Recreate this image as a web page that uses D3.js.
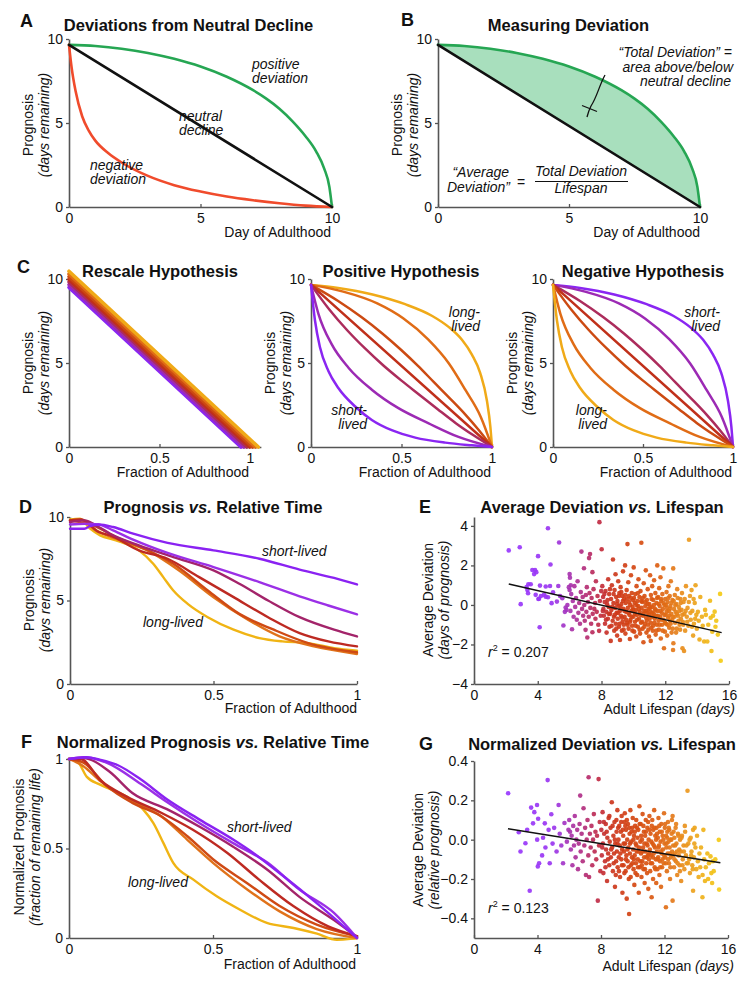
<!DOCTYPE html>
<html><head><meta charset="utf-8">
<script src="https://cdn.jsdelivr.net/npm/d3@7"></script>
<style>body{margin:0;background:#fff}</style>
</head><body>
<svg id="fig" width="751" height="987" style="background:#fff"></svg>
<script>
// ---------------- DATA ----------------
const ticksDays = [0, 5, 10];
const ticksFrac = [0, 0.5, 1];
const ticksLife = [0, 4, 8, 12, 16];
const ticksDevE = [-4, -2, 0, 2, 4];
const ticksDevG = [-0.4, -0.2, 0, 0.2, 0.4];

// Panel A / B curves  [day, prognosis]
const neutralLine = [[0, 9.65], [10, 0]];
const positiveCurve = [[0,9.65],[1,9.58],[2,9.42],[3,9.17],[4,8.82],[5,8.36],[6,7.75],[7,6.95],[7.5,6.45],[8,5.85],[8.5,5.1],[9,4.2],[9.4,3.3],[9.7,2.3],[9.9,1.2],[10,0]];
const negativeCurve = [[0,9.65],[0.1,8.3],[0.25,6.9],[0.5,5.4],[0.75,4.55],[1,3.95],[1.5,3.2],[2,2.65],[3,1.85],[4,1.3],[5,0.92],[6,0.62],[7,0.4],[8,0.22],[9,0.08],[10,0]];

// Panel C – rescale hypothesis: start prognosis and end fraction of each line
const rescaleStarts = [9.5, 9.66, 9.82, 9.98, 10.14, 10.3, 10.46];
const rescaleEnds   = [0.95, 0.966, 0.982, 0.998, 1.014, 1.03, 1.046];

// Panel C – hypothesis curve family (from most convex to most concave)
const hypCurves = [
  [[0,9.65],[0.15,9.47],[0.34,9.08],[0.52,8.5],[0.67,7.8],[0.76,7.15],[0.834,6.38],[0.889,5.5],[0.935,4.4],[0.972,2.75],[0.991,1.2],[1,0]],
  [[0,9.65],[0.178,9.25],[0.366,8.55],[0.511,7.65],[0.647,6.41],[0.761,4.99],[0.854,3.38],[0.938,1.79],[1,0]],
  [[0,9.65],[0.15,8.69],[0.28,7.72],[0.394,6.76],[0.497,5.79],[0.591,4.83],[0.679,3.86],[0.767,2.9],[0.853,1.93],[0.93,0.97],[1,0]],
  [[0,9.65],[1,0]],
  [[0,9.65],[0.1,8.2],[0.2,6.95],[0.3,5.85],[0.4,4.85],[0.5,3.95],[0.6,3.1],[0.7,2.25],[0.8,1.42],[0.9,0.68],[1,0]],
  [[0,9.65],[0.041,7.93],[0.114,6.12],[0.207,4.72],[0.336,3.41],[0.483,2.31],[0.65,1.41],[0.815,0.6],[1,0]],
  [[0,9.65],[0.022,7.53],[0.05,5.92],[0.096,4.52],[0.151,3.51],[0.244,2.41],[0.336,1.61],[0.446,1.0],[0.576,0.56],[0.742,0.26],[0.889,0.1],[1,0]]
];
// colour order short-lived (purple) -> long-lived (yellow)
const lifeColors = ['#8a26f2','#9c2ab4','#ac2c5c','#c0301a','#cc4a12','#e06c16','#f0aa18'];

// Panel D – prognosis vs relative time (short-lived -> long-lived)
const prognosisCurves = [
  [[0,9.3],[0.05,9.3],[0.07,9.45],[0.1,9.55],[0.15,9.4],[0.22,9.0],[0.34,8.45],[0.5,8.0],[0.66,7.5],[0.8,6.85],[0.92,6.35],[1,5.96]],
  [[0,9.55],[0.05,9.6],[0.1,9.55],[0.15,9.2],[0.22,8.65],[0.34,7.85],[0.5,7.0],[0.66,6.1],[0.8,5.25],[0.9,4.7],[1,4.17]],
  [[0,9.7],[0.05,9.8],[0.1,9.4],[0.14,9.0],[0.24,8.3],[0.36,7.6],[0.5,6.8],[0.59,6.0],[0.69,5.0],[0.8,4.0],[0.92,3.25],[1,2.85]],
  [[0,9.8],[0.04,9.85],[0.1,9.1],[0.14,8.9],[0.24,8.0],[0.34,7.5],[0.45,6.4],[0.57,5.2],[0.69,4.0],[0.8,3.05],[0.9,2.55],[1,2.25]],
  [[0,9.8],[0.08,9.5],[0.16,8.8],[0.26,8.1],[0.36,7.2],[0.48,5.6],[0.59,4.2],[0.71,3.25],[0.83,2.45],[1,1.9]],
  [[0,9.8],[0.035,9.85],[0.09,9.2],[0.16,8.7],[0.27,8.0],[0.38,6.8],[0.5,5.2],[0.62,3.85],[0.73,2.85],[0.85,2.25],[1,1.8]],
  [[0,9.85],[0.035,9.9],[0.07,9.3],[0.105,8.9],[0.16,8.6],[0.24,8.0],[0.29,7.2],[0.325,6.4],[0.36,5.6],[0.41,4.8],[0.48,4.0],[0.57,3.25],[0.66,2.75],[0.74,2.55],[0.83,2.45],[0.92,2.15],[1,2.0]]
];
const curveColorsD = ['#8a22f2','#9b30e6','#a3246a','#bd2a22','#cf4a14','#e0721a','#f0b414'];

// Panel F – normalized prognosis
const normCurves = [
  [[0,1.0],[0.06,1.01],[0.11,0.995],[0.17,0.965],[0.25,0.885],[0.34,0.775],[0.455,0.66],[0.57,0.55],[0.64,0.475],[0.745,0.345],[0.86,0.195],[1,0]],
  [[0,1.0],[0.05,1.01],[0.13,0.98],[0.25,0.86],[0.34,0.76],[0.455,0.64],[0.57,0.53],[0.69,0.42],[0.8,0.27],[0.92,0.14],[1,0]],
  [[0,1.0],[0.05,1.005],[0.14,0.93],[0.22,0.81],[0.34,0.72],[0.455,0.62],[0.57,0.51],[0.69,0.38],[0.8,0.23],[0.92,0.1],[1,0.005]],
  [[0,1.0],[0.04,1.0],[0.11,0.88],[0.2,0.79],[0.32,0.7],[0.43,0.605],[0.55,0.475],[0.66,0.326],[0.78,0.177],[0.9,0.065],[1,0.01]],
  [[0,1.0],[0.05,0.98],[0.13,0.85],[0.22,0.755],[0.32,0.68],[0.41,0.57],[0.5,0.44],[0.62,0.305],[0.73,0.18],[0.86,0.075],[1,0.01]],
  [[0,1.0],[0.05,0.96],[0.11,0.875],[0.2,0.78],[0.32,0.68],[0.41,0.55],[0.5,0.42],[0.62,0.27],[0.73,0.15],[0.86,0.05],[1,0]],
  [[0,1.0],[0.027,0.99],[0.062,0.9],[0.108,0.857],[0.2,0.79],[0.258,0.717],[0.293,0.642],[0.328,0.53],[0.362,0.42],[0.432,0.326],[0.513,0.233],[0.594,0.158],[0.687,0.084],[0.78,0.056],[0.861,0.024],[0.93,-0.01],[0.977,-0.005],[1,0]]
];

// Panel E – [adult lifespan (days), average deviation (days)]
const pointsE = [
 [2.18,2.76],[2.87,2.92],[2.93,0.04],[3.3,0.9],[3.35,0.76],[3.39,0.59],[3.41,1.05],[3.56,1.05],[3.66,1.77],[3.77,1.56],[3.83,1.77],[3.87,0.51],[3.91,1.66],[4.02,2.47],[4.04,0.3],[4.08,0.31],[4.12,-1.13],[4.14,0.98],[4.2,0.45],[4.39,0.51],[4.5,0.93],[4.5,0.42],[4.64,3.88],[4.64,0.39],[4.77,0.96],[4.8,2.05],[4.87,0.09],[4.96,0.64],[5.2,0.17],[5.29,0.96],[5.34,3.16],[5.4,0.45],[5.54,0.34],[5.61,-1.04],[5.75,-0.13],[5.8,-0.25],[5.86,0.0],[6.0,1.56],[6.0,0.76],[6.02,1.38],[6.07,1.0],[5.95,0.9],[5.7,-0.35],
 [6.05,-0.3],[6.1,0.55],[6.15,-1.23],[6.2,0.2],[6.25,-0.6],[6.3,0.95],[6.35,-0.1],[6.4,0.35],[6.45,-0.75],[6.5,1.2],[6.55,-0.4],[6.6,0.1],[6.65,-0.95],[6.7,0.65],[6.74,2.7],[6.78,-0.2],[6.82,0.4],[6.85,-0.55],[6.9,1.86],[6.92,0.0],[6.95,-0.8],[7.0,-1.26],[7.02,0.5],[7.05,-0.35],[7.08,0.9],[7.11,-1.65],[7.15,0.15],[7.2,-0.6],[7.22,2.37],[7.25,0.6],[7.28,2.58],[7.3,-0.15],[7.35,-0.95],[7.38,0.35],[7.43,1.66],[7.43,-1.38],[7.45,-0.45],[7.5,0.8],[7.55,-0.2],[7.6,0.1],[7.62,-0.7],[7.65,1.2],[7.7,-0.35],[7.75,0.45],[7.8,-1.0],[7.85,-1.31],[7.87,4.19],[7.9,0.2],[7.95,-0.55],[7.98,0.7],[8.01,2.82],
 [8.05,0.95],[8.1,0.4],[8.12,-0.2],[8.15,-0.55],[8.2,0.15],[8.22,-0.95],[8.25,0.7],[8.3,-0.35],[8.32,-1.4],[8.35,0.05],[8.4,-0.7],[8.42,1.3],[8.45,-0.1],[8.48,0.55],[8.5,-1.1],
 [8.55,-0.45],[8.58,-1.82],[8.6,0.3],[8.62,-0.25],[8.65,1.0],[8.7,-0.8],[8.72,2.3],[8.75,0.1],[8.78,-0.6],[8.8,-1.3],[8.82,0.75],[8.85,-0.15],[8.88,1.55],[8.9,-0.95],[8.92,0.4],[8.95,-0.4],[8.98,-1.55],
 [9.0,0.2],[9.02,-0.7],[9.05,1.2],[9.08,-0.05],[9.1,-1.1],[9.12,0.6],[9.15,-0.3],[9.16,-1.77],[9.2,0.9],[9.22,-0.55],[9.25,0.05],[9.28,-1.3],[9.3,0.45],[9.32,-0.85],[9.35,1.7],[9.38,-0.2],[9.4,-1.0],[9.42,0.3],[9.45,-0.6],[9.48,2.0],[9.5,-1.45],
 [9.52,0.1],[9.55,-0.35],[9.58,0.75],[9.6,-0.9],[9.63,3.08],[9.65,-0.15],[9.68,1.15],[9.7,-1.2],[9.72,0.45],[9.75,-0.5],[9.78,-1.72],[9.8,0.0],[9.82,-0.75],[9.85,1.5],[9.88,-0.3],[9.9,0.6],[9.92,-1.05],[9.95,-0.1],[9.98,0.25],
 [10.0,-0.6],[10.02,1.9],[10.05,-1.35],[10.08,0.1],[10.1,-0.85],[10.12,0.55],[10.15,-0.25],[10.18,-1.6],[10.2,0.95],[10.22,-0.5],[10.25,0.2],[10.28,-1.1],[10.3,-0.05],[10.32,1.3],[10.35,-0.7],[10.38,0.4],[10.4,-0.35],[10.42,-1.45],[10.45,0.7],[10.48,-0.9],
 [10.5,3.15],[10.52,-0.15],[10.55,0.15],[10.58,-1.2],[10.6,-0.55],[10.63,-1.89],[10.65,1.1],[10.68,-0.3],[10.7,0.45],[10.72,-0.95],[10.75,-0.05],[10.78,1.75],[10.8,-0.65],[10.82,-1.4],[10.85,0.25],[10.88,-0.4],[10.9,0.8],[10.92,-1.0],[10.95,-0.2],[10.98,-1.6],
 [11.0,0.05],[11.02,-0.7],[11.05,1.5],[11.08,-0.35],[11.09,-1.82],[11.1,0.5],[11.12,-1.15],[11.15,-0.1],[11.18,0.95],[11.2,-0.6],[11.22,-1.3],[11.25,0.25],[11.28,-0.45],[11.3,1.25],[11.32,-0.9],[11.35,-0.2],[11.38,0.6],[11.4,-1.5],[11.42,-0.55],[11.45,0.1],[11.48,-1.0],
 [11.5,2.0],[11.52,-0.3],[11.55,0.4],[11.58,-0.8],[11.6,-1.25],[11.62,0.85],[11.65,-0.05],[11.68,-0.6],[11.7,1.4],[11.72,-1.7],[11.75,0.2],[11.78,-0.4],[11.8,-1.0],[11.82,0.55],[11.85,-0.2],[11.88,1.85],[11.9,-0.75],[11.92,-2.19],[11.95,0.0],[11.98,-1.35],
 [12.0,0.3],[12.02,-0.5],[12.05,-0.95],[12.08,0.65],[12.1,-0.15],[12.12,-1.55],[12.15,0.15],[12.18,-0.65],[12.2,0.95],[12.22,-0.3],[12.25,-1.15],[12.28,0.45],[12.3,-0.8],[12.32,-0.05],[12.35,1.2],[12.38,-0.45],[12.4,-1.4],[12.45,0.25],[12.48,-0.6],[12.49,-2.28],
 [12.5,1.85],[12.51,-1.94],[12.55,-0.2],[12.6,0.5],[12.62,-0.9],[12.65,-0.35],[12.7,0.05],[12.72,-1.2],[12.75,0.8],[12.8,-0.55],[12.85,-0.1],[12.9,-1.0],[12.95,0.3],[12.98,-0.7],
 [13.02,-0.25],[13.05,0.6],[13.08,-2.19],[13.1,-0.85],[13.15,0.15],[13.18,-2.33],[13.2,-0.45],[13.25,-1.3],[13.3,0.95],[13.35,-0.6],[13.4,-0.15],[13.45,-1.05],[13.49,3.3],
 [13.55,0.45],[13.6,-0.75],[13.65,0.75],[13.7,-0.3],[13.75,-1.55],[13.8,-0.95],[13.85,0.1],[13.9,1.0],[13.95,-0.5],[13.98,-1.2],
 [14.05,-0.35],[14.1,-0.8],[14.15,-1.75],[14.2,0.4],[14.3,-0.6],[14.35,-1.05],[14.44,-1.85],[14.5,-0.25],[14.55,-0.5],[14.64,-1.85],[14.7,-1.0],[14.81,0.21],[14.85,-0.65],[14.9,-2.33],[14.95,-1.35],[15.0,-0.55],[15.1,-0.34],[15.15,-1.1],[15.2,-0.8],[15.3,-1.5],[15.44,0.56],[15.48,-2.82],
 [8.08,-0.3],[8.18,0.55],[8.28,-0.75],[8.38,0.25],[8.46,-0.45],[8.53,0.8],[8.63,-1.05],[8.68,-0.1],[8.76,0.55],[8.84,-0.5],[8.93,-1.2],[8.97,0.05],
 [9.04,-0.4],[9.09,0.45],[9.14,-0.95],[9.19,-0.1],[9.24,0.65],[9.29,-0.65],[9.34,0.2],[9.39,-1.25],[9.44,-0.3],[9.49,0.5],
 [9.54,-0.75],[9.59,0.3],[9.64,-1.0],[9.69,-0.4],[9.74,0.15],[9.79,-0.85],[9.84,0.35],[9.89,-0.6],[9.94,-1.3],[9.99,-0.25],
 [10.04,0.35],[10.09,-0.45],[10.14,-1.05],[10.19,0.0],[10.24,-0.75],[10.29,0.6],[10.34,-0.2],[10.39,-1.25],[10.44,-0.5],[10.49,0.2],
 [10.54,-0.85],[10.59,0.35],[10.64,-0.45],[10.69,-1.1],[10.74,0.15],[10.79,-0.3],[10.84,-0.8],[10.89,0.05],[10.94,-1.25],[10.99,-0.5],
 [11.04,-0.15],[11.09,-0.9],[11.14,0.3],[11.19,-0.4],[11.24,-1.05],[11.29,0.0],[11.34,-0.7],[11.39,-0.25],[11.44,-1.3],[11.49,0.35],
 [11.54,-0.55],[11.59,0.05],[11.64,-1.0],[11.69,-0.3],[11.74,0.3],[11.79,-0.75],[11.84,-1.3],[11.89,0.1],[11.94,-0.5],[11.99,-0.9],
 [12.04,0.0],[12.09,-0.35],[12.14,-1.0],[12.19,0.35],[12.24,-0.55],[12.29,-0.2],[12.34,-0.95],[12.39,0.1],[12.44,-0.75],[12.47,-1.2],
 [12.53,0.2],[12.58,-0.6],[12.63,0.0],[12.68,-1.4],[12.73,-0.45],[12.78,0.35],[12.83,-0.8],[12.88,-0.3],[12.93,-1.25],[12.97,0.1],
 [13.07,-0.5],[13.13,-1.0],[13.22,0.3],[13.28,-0.3],[13.38,-0.85],[13.48,0.15],[13.58,-0.4],[13.68,-1.1],[13.78,0.3],[13.88,-0.7]
];
const fitE = [[2.18, 1.06], [15.54, -1.40]];
const r2E = '0.207';

// Panel G – [adult lifespan (days), average deviation (relative prognosis)]
const pointsG = [
 [2.15,0.236],[2.82,0.038],[2.93,-0.06],[3.24,-0.018],[3.35,0.05],[3.51,-0.26],[3.6,0.163],[3.72,0.083],[3.8,0.14],[3.97,0.176],[3.98,0.0],[4.02,-0.136],[4.04,0.106],[4.1,-0.12],[4.29,-0.08],[4.35,0.01],[4.46,0.083],[4.5,-0.04],[4.64,0.303],[4.7,0.05],[4.77,-0.12],[4.87,0.129],[4.95,-0.02],[5.05,0.06],[5.2,-0.06],[5.33,0.176],[5.4,0.03],[5.5,-0.03],[5.61,-0.12],[5.7,0.085],[5.85,-0.01],[5.95,0.05],[6.0,0.1],
 [6.05,0.04],[6.1,-0.05],[6.15,0.02],[6.2,-0.13],[6.25,0.07],[6.3,-0.03],[6.35,0.12],[6.4,-0.09],[6.45,0.0],[6.5,0.05],[6.55,-0.15],[6.6,-0.02],[6.65,0.08],[6.69,0.224],[6.72,-0.06],[6.78,0.03],[6.85,-0.11],[6.9,0.16],[6.95,-0.03],[7.0,0.06],[7.05,-0.18],[7.1,0.0],[7.15,0.1],[7.2,-0.08],[7.22,0.317],[7.25,-0.19],[7.3,0.03],[7.35,-0.04],[7.4,0.07],[7.45,-0.13],[7.5,0.0],[7.55,0.13],[7.6,-0.06],[7.65,0.04],[7.7,-0.1],[7.75,0.02],[7.8,-0.31],[7.85,0.308],[7.88,-0.03],[7.92,0.09],[7.96,-0.16],
 [8.02,0.05],[8.05,-0.08],[8.1,0.14],[8.12,-0.02],[8.15,-0.17],[8.2,0.03],[8.25,-0.11],[8.3,0.08],[8.32,-0.05],[8.38,-0.21],[8.4,0.01],[8.45,-0.07],[8.48,0.11],
 [8.52,-0.13],[8.55,-0.01],[8.6,0.06],[8.62,-0.09],[8.68,0.19],[8.7,-0.04],[8.75,-0.16],[8.78,0.02],[8.82,-0.07],[8.85,0.09],[8.88,-0.24],[8.9,-0.02],[8.95,-0.11],[8.98,0.04],
 [9.0,-0.06],[9.03,0.15],[9.05,-0.14],[9.1,0.0],[9.12,-0.09],[9.15,0.07],[9.18,-0.03],[9.2,-0.19],[9.25,0.04],[9.28,-0.1],[9.3,0.12],[9.33,-0.05],[9.35,-0.27],[9.4,0.02],[9.42,-0.13],[9.45,-0.06],[9.48,0.09],
 [9.5,0.134],[9.52,-0.02],[9.55,-0.16],[9.58,0.05],[9.6,-0.08],[9.62,-0.3],[9.65,0.0],[9.68,-0.11],[9.7,0.08],[9.72,-0.04],[9.75,-0.2],[9.77,-0.378],[9.8,0.03],[9.82,-0.07],[9.85,0.15],[9.88,-0.13],[9.9,-0.01],[9.95,-0.09],[9.98,0.06],
 [10.0,0.11],[10.02,-0.05],[10.05,-0.15],[10.08,0.02],[10.1,-0.23],[10.12,-0.08],[10.15,0.07],[10.18,-0.02],[10.2,-0.12],[10.22,0.1],[10.25,-0.06],[10.28,-0.18],[10.3,0.01],[10.32,-0.1],[10.35,0.05],[10.38,-0.27],[10.4,-0.04],[10.42,0.17],[10.45,-0.14],[10.48,-0.01],
 [10.5,0.08],[10.52,-0.07],[10.55,-0.19],[10.58,0.0],[10.6,-0.11],[10.62,0.13],[10.65,-0.04],[10.68,-0.15],[10.7,0.04],[10.72,-0.09],[10.75,-0.22],[10.78,0.02],[10.8,-0.06],[10.82,0.1],[10.85,-0.12],[10.88,-0.02],[10.9,-0.17],[10.92,0.06],[10.95,-0.08],[10.98,-0.25],
 [11.0,0.0],[11.02,-0.1],[11.05,0.12],[11.08,-0.05],[11.1,-0.16],[11.12,0.03],[11.15,-0.08],[11.19,-0.293],[11.2,0.07],[11.22,-0.12],[11.25,-0.02],[11.28,-0.2],[11.3,0.05],[11.32,-0.07],[11.35,0.15],[11.38,-0.14],[11.4,-0.04],[11.42,0.02],[11.45,-0.1],[11.48,-0.22],
 [11.5,0.06],[11.52,-0.06],[11.55,-0.15],[11.58,0.01],[11.6,-0.09],[11.62,0.11],[11.65,-0.03],[11.68,-0.18],[11.7,0.04],[11.72,-0.11],[11.75,-0.01],[11.78,-0.24],[11.8,0.08],[11.82,-0.07],[11.85,-0.14],[11.88,0.02],[11.9,-0.05],[11.95,-0.12],[11.97,0.134],
 [12.0,-0.02],[12.02,0.06],[12.05,-0.09],[12.09,-0.344],[12.1,0.02],[12.12,-0.04],[12.15,-0.16],[12.18,0.04],[12.2,-0.07],[12.22,0.09],[12.25,-0.01],[12.28,-0.12],[12.3,0.05],[12.32,-0.04],[12.35,-0.2],[12.38,0.0],[12.4,-0.09],[12.45,0.03],[12.48,-0.06],
 [12.51,0.12],[12.51,-0.31],[12.55,-0.03],[12.6,-0.14],[12.62,0.01],[12.65,-0.07],[12.7,0.06],[12.72,-0.11],[12.75,-0.02],[12.8,-0.18],[12.85,0.03],[12.9,-0.08],[12.95,-0.13],[12.98,0.0],
 [13.02,-0.06],[13.05,-0.21],[13.1,0.02],[13.15,-0.1],[13.2,-0.03],[13.25,-0.15],[13.3,0.04],[13.35,-0.08],[13.4,-0.12],[13.45,0.249],
 [13.5,-0.02],[13.55,-0.1],[13.6,-0.17],[13.65,0.01],[13.7,-0.06],[13.75,-0.13],[13.8,0.05],[13.8,-0.26],[13.85,-0.09],[13.9,0.06],[13.95,-0.04],
 [14.0,-0.15],[14.05,0.02],[14.1,-0.11],[14.15,-0.19],[14.2,-0.07],[14.25,-0.14],[14.3,-0.04],[14.39,-0.293],[14.4,-0.18],[14.45,0.05],[14.5,-0.1],[14.55,-0.21],[14.6,-0.14],[14.7,-0.07],[14.75,-0.2],[14.8,-0.12],[14.9,-0.085],[14.95,-0.17],[15.0,-0.22],[15.05,-0.11],[15.1,-0.16],[15.2,-0.1],[15.42,-0.001],[15.44,-0.254],
 [8.08,-0.04],[8.18,0.09],[8.28,-0.14],[8.36,0.04],[8.44,-0.1],[8.53,0.12],[8.64,-0.05],[8.73,0.07],[8.8,-0.12],[8.87,0.0],[8.93,-0.18],[8.97,0.1],
 [9.04,-0.02],[9.08,0.06],[9.13,-0.16],[9.22,-0.07],[9.27,0.09],[9.32,-0.13],[9.37,0.05],[9.43,-0.02],[9.47,-0.17],
 [9.53,0.07],[9.57,-0.1],[9.63,0.1],[9.67,-0.05],[9.73,-0.14],[9.78,0.06],[9.83,-0.02],[9.87,-0.19],[9.92,0.04],[9.97,-0.12],
 [10.04,0.0],[10.07,-0.1],[10.13,0.04],[10.17,-0.17],[10.23,-0.03],[10.27,0.06],[10.33,-0.14],[10.37,-0.06],[10.43,0.08],[10.47,-0.11],
 [10.53,0.02],[10.57,-0.13],[10.63,-0.06],[10.67,0.07],[10.73,-0.02],[10.77,-0.15],[10.83,0.04],[10.87,-0.09],[10.93,-0.03],[10.97,0.09],
 [11.03,-0.07],[11.07,0.05],[11.13,-0.12],[11.17,-0.01],[11.23,0.1],[11.27,-0.09],[11.33,-0.03],[11.37,0.06],[11.43,-0.15],[11.47,0.0],
 [11.53,0.03],[11.57,-0.1],[11.63,-0.04],[11.67,0.07],[11.73,-0.14],[11.77,-0.06],[11.83,0.04],[11.87,-0.1],[11.93,0.0],[11.98,-0.08],
 [12.04,0.08],[12.08,-0.12],[12.13,-0.02],[12.17,0.01],[12.23,-0.1],[12.27,0.06],[12.33,-0.07],[12.37,-0.14],[12.43,0.0],[12.47,0.1],
 [12.53,-0.08],[12.57,0.04],[12.63,-0.1],[12.67,-0.03],[12.73,0.08],[12.78,-0.06],[12.83,-0.12],[12.87,0.02],[12.93,-0.05],[12.97,-0.16],
 [13.07,0.01],[13.13,-0.13],[13.22,-0.06],[13.28,0.07],[13.38,-0.03],[13.48,-0.12],[13.58,0.0],[13.68,-0.08],[13.78,-0.15],[13.88,-0.02]
];
const fitG = [[2.14, 0.056], [15.52, -0.117]];
const r2G = '0.123';

// lifespan -> colour stops for scatter points
const lifeStops  = [2, 5, 6, 7, 7.8, 8.5, 10, 11.5, 12.5, 13.5, 14.5, 15.5];
const lifeStopColors = ['#9838ff','#9a36f0','#a834b0','#b42e78','#c02c48','#cb3420','#d44612','#dc5e12','#e47a1a','#eb9a1e','#f0b41a','#f4cc16'];

// ---------------- DRAWING ----------------
const FONT = '"Liberation Sans", Arial, Helvetica, sans-serif';
const svg = d3.select('#fig');
const AX = '#555';

function makePanel(p) {
  const x = d3.scaleLinear().domain(p.xDomain).range(p.xRange);
  const y = d3.scaleLinear().domain(p.yDomain).range(p.yRange);
  const gx = svg.append('g').attr('transform', `translate(0,${p.yRange[0]})`)
    .call(d3.axisBottom(x).tickValues(p.xTicks).tickFormat(p.xFmt).tickSizeInner(-3).tickSizeOuter(0).tickPadding(6));
  const gy = svg.append('g').attr('transform', `translate(${p.xRange[0]},0)`)
    .call(d3.axisLeft(y).tickValues(p.yTicks).tickFormat(p.yFmt).tickSizeInner(3).tickSizeOuter(0).tickPadding(3));
  for (const g of [gx, gy]) {
    g.attr('font-family', FONT).attr('font-size', 14);
    g.select('.domain').attr('stroke', AX).attr('stroke-width', 1.6);
    g.selectAll('.tick line').attr('stroke', AX).attr('stroke-width', 1.3);
    g.selectAll('.tick text').attr('fill', '#111');
  }
  return { x, y };
}

function text(x, y, parts, opt = {}) {
  const t = svg.append('text').attr('x', x).attr('y', y)
    .attr('font-family', FONT).attr('font-size', opt.size || 14)
    .attr('text-anchor', opt.anchor || 'start').attr('fill', '#111');
  if (opt.bold) t.attr('font-weight', 'bold');
  if (opt.transform) t.attr('transform', opt.transform).attr('x', 0).attr('y', 0);
  if (typeof parts === 'string') parts = [[parts, !!opt.italic]];
  parts.forEach(([s, it]) => t.append('tspan').attr('font-style', it ? 'italic' : 'normal').text(s));
  return t;
}
function title(cx, y, parts) { text(cx, y, parts, { anchor: 'middle', bold: true, size: 16.5 }); }
function letter(x, y, s) { text(x, y, s, { bold: true, size: 18 }); }
function yLabel(xb1, xb2, yc, main, sub) {
  text(0, 0, main, { anchor: 'middle', transform: `translate(${xb1},${yc}) rotate(-90)` });
  text(0, 0, [[sub, true]], { anchor: 'middle', transform: `translate(${xb2},${yc}) rotate(-90)` });
}
function xLabel(xr, y, parts) { text(xr, y, parts, { anchor: 'end' }); }

const fmtInt = d3.format('d');
const fmtG = d3.format('~g');
const fmt1 = d3.format('.1f');

function drawLine(P, data, color, width = 2.6) {
  svg.append('path').datum(data)
    .attr('fill', 'none').attr('stroke', color).attr('stroke-width', width)
    .attr('stroke-linecap', 'round').attr('stroke-linejoin', 'round')
    .attr('d', d3.line().x(d => P.x(d[0])).y(d => P.y(d[1])).curve(d3.curveMonotoneX));
}

// ---------- Panel A ----------
{
  const P = makePanel({ xDomain: [0, 10], xRange: [69, 332], yDomain: [0, 10], yRange: [207, 39],
    xTicks: ticksDays, yTicks: ticksDays, xFmt: fmtInt, yFmt: fmtInt });
  drawLine(P, positiveCurve, '#26a653');
  drawLine(P, negativeCurve, '#f04b2c');
  drawLine(P, neutralLine, '#111');
  letter(20, 27, 'A');
  title(188.5, 31, 'Deviations from Neutral Decline');
  yLabel(33, 49, 125, 'Prognosis', '(days remaining)');
  xLabel(331, 237, 'Day of Adulthood');
  text(252, 69, 'positive', { italic: true }); text(252, 83, 'deviation', { italic: true });
  text(179, 121, 'neutral', { italic: true }); text(179, 135, 'decline', { italic: true });
  text(90, 170, 'negative', { italic: true }); text(90, 184, 'deviation', { italic: true });
}

// ---------- Panel B ----------
{
  const P = makePanel({ xDomain: [0, 10], xRange: [438, 700], yDomain: [0, 10], yRange: [207, 39],
    xTicks: ticksDays, yTicks: ticksDays, xFmt: fmtInt, yFmt: fmtInt });
  const ln = d3.line().x(d => P.x(d[0])).y(d => P.y(d[1])).curve(d3.curveMonotoneX);
  svg.append('path').attr('d', ln(positiveCurve) + 'Z').attr('fill', '#a8dfbd').attr('stroke', 'none');
  drawLine(P, positiveCurve, '#26a653');
  drawLine(P, neutralLine, '#111');
  letter(401, 26, 'B');
  title(568.5, 31, 'Measuring Deviation');
  yLabel(402, 418, 125, 'Prognosis', '(days remaining)');
  xLabel(700, 237, 'Day of Adulthood');
  text(732, 57, '\u201CTotal Deviation\u201D =', { italic: true, anchor: 'end' });
  text(733, 72, 'area above/below', { italic: true, anchor: 'end' });
  text(731, 86, 'neutral decline', { italic: true, anchor: 'end' });
  svg.append('path').attr('d', 'M605,75 C599,86 597,97 591,106 C589,110 588,113 587,117')
    .attr('fill', 'none').attr('stroke', '#111').attr('stroke-width', 1.3);
  svg.append('line').attr('x1', 582).attr('y1', 105.5).attr('x2', 597).attr('y2', 111.5)
    .attr('stroke', '#111').attr('stroke-width', 1.3);
  text(509, 177, '\u201CAverage', { italic: true, anchor: 'end' });
  text(510, 192, 'Deviation\u201D', { italic: true, anchor: 'end' });
  text(517, 187, '=');
  text(581, 176, 'Total Deviation', { italic: true, anchor: 'middle' });
  svg.append('line').attr('x1', 535).attr('x2', 628).attr('y1', 181.5).attr('y2', 181.5)
    .attr('stroke', '#111').attr('stroke-width', 1.2);
  text(581, 193, 'Lifespan', { italic: true, anchor: 'middle' });
}

// ---------- Panel C ----------
{
  const P = makePanel({ xDomain: [0, 1.06], xRange: [69, 69 + 181 * 1.06], yDomain: [0, 10], yRange: [447, 279],
    xTicks: ticksFrac, yTicks: ticksDays, xFmt: fmtG, yFmt: fmtInt });
  rescaleStarts.forEach((s, i) => drawLine(P, [[0, s], [rescaleEnds[i], 0]], lifeColors[i], 3.6));
  letter(17, 273, 'C');
  title(160, 277, 'Rescale Hypothesis');
  yLabel(33, 49, 363, 'Prognosis', '(days remaining)');
  xLabel(249, 477, 'Fraction of Adulthood');
}
{
  const P = makePanel({ xDomain: [0, 1], xRange: [311, 492], yDomain: [0, 10], yRange: [447, 279],
    xTicks: ticksFrac, yTicks: ticksDays, xFmt: fmtG, yFmt: fmtInt });
  hypCurves.forEach((c, i) => drawLine(P, c, lifeColors[6 - i], 2.5));
  title(401, 277, 'Positive Hypothesis');
  yLabel(275, 291, 363, 'Prognosis', '(days remaining)');
  xLabel(491, 477, 'Fraction of Adulthood');
  text(480, 317, 'long-', { italic: true, anchor: 'end' });
  text(480, 331, 'lived', { italic: true, anchor: 'end' });
  text(367, 415, 'short-', { italic: true, anchor: 'end' });
  text(367, 429, 'lived', { italic: true, anchor: 'end' });
}
{
  const P = makePanel({ xDomain: [0, 1], xRange: [553, 733], yDomain: [0, 10], yRange: [447, 279],
    xTicks: ticksFrac, yTicks: ticksDays, xFmt: fmtG, yFmt: fmtInt });
  hypCurves.forEach((c, i) => drawLine(P, c, lifeColors[i], 2.5));
  title(643, 277, 'Negative Hypothesis');
  yLabel(517, 533, 363, 'Prognosis', '(days remaining)');
  xLabel(732, 477, 'Fraction of Adulthood');
  text(720, 317, 'short-', { italic: true, anchor: 'end' });
  text(720, 331, 'lived', { italic: true, anchor: 'end' });
  text(607, 415, 'long-', { italic: true, anchor: 'end' });
  text(607, 429, 'lived', { italic: true, anchor: 'end' });
}

// ---------- Panel D ----------
{
  const P = makePanel({ xDomain: [0, 1], xRange: [70, 357], yDomain: [0, 10], yRange: [684, 517],
    xTicks: ticksFrac, yTicks: ticksDays, xFmt: fmtG, yFmt: fmtInt });
  for (let i = prognosisCurves.length - 1; i >= 0; i--) drawLine(P, prognosisCurves[i], curveColorsD[i], 2.4);
  letter(19, 513, 'D');
  title(213, 513, [['Prognosis ', false], ['vs.', true], [' Relative Time', false]]);
  yLabel(34, 50, 600, 'Prognosis', '(days remaining)');
  xLabel(357, 713, 'Fraction of Adulthood');
  text(262, 556, 'short-lived', { italic: true });
  text(143, 627, 'long-lived', { italic: true });
}

// ---------- scatter helper ----------
const lifeColor = d3.scaleLinear().domain(lifeStops).range(lifeStopColors).interpolate(d3.interpolateRgb);
function scatter(P, pts, fit, r2, r2x, r2y) {
  svg.append('g').selectAll('circle').data(pts).join('circle')
    .attr('cx', d => P.x(d[0])).attr('cy', d => P.y(d[1])).attr('r', 2.3)
    .attr('fill', d => lifeColor(d[0])).attr('fill-opacity', 0.92);
  svg.append('line').attr('x1', P.x(fit[0][0])).attr('y1', P.y(fit[0][1]))
    .attr('x2', P.x(fit[1][0])).attr('y2', P.y(fit[1][1]))
    .attr('stroke', '#111').attr('stroke-width', 1.5);
  const t = svg.append('text').attr('x', r2x).attr('y', r2y).attr('font-family', FONT).attr('font-size', 14).attr('fill', '#111');
  t.append('tspan').attr('font-style', 'italic').text('r');
  t.append('tspan').attr('font-size', 9).attr('dy', -6).text('2');
  t.append('tspan').attr('dy', 6).text(' = ' + r2);
}

// ---------- Panel E ----------
{
  const P = makePanel({ xDomain: [0, 16], xRange: [474, 729], yDomain: [-4, 4.45], yRange: [684, 517],
    xTicks: ticksLife, yTicks: ticksDevE, xFmt: fmtInt, yFmt: fmtInt });
  scatter(P, pointsE, fitE, r2E, 488, 657);
  letter(419, 513, 'E');
  title(602, 513, [['Average Deviation ', false], ['vs.', true], [' Lifespan', false]]);
  yLabel(433, 449, 600, 'Average Deviation', '(days of prognosis)');
  xLabel(735, 714, [['Adult Lifespan ', false], ['(days)', true]]);
}

// ---------- Panel F ----------
{
  const P = makePanel({ xDomain: [0, 1], xRange: [69, 357], yDomain: [0, 1], yRange: [938, 759],
    xTicks: ticksFrac, yTicks: ticksFrac, xFmt: fmtG, yFmt: fmtG });
  for (let i = normCurves.length - 1; i >= 0; i--) drawLine(P, normCurves[i], curveColorsD[i], 2.4);
  letter(21, 748, 'F');
  title(213, 748, [['Normalized Prognosis ', false], ['vs.', true], [' Relative Time', false]]);
  yLabel(24, 40, 847, 'Normalized Prognosis', '(fraction of remaining life)');
  xLabel(356, 969, 'Fraction of Adulthood');
  text(227, 832, 'short-lived', { italic: true });
  text(128, 887, 'long-lived', { italic: true });
}

// ---------- Panel G ----------
{
  const P = makePanel({ xDomain: [0, 16], xRange: [474, 728], yDomain: [-0.5, 0.4], yRange: [938, 761],
    xTicks: ticksLife, yTicks: ticksDevG, xFmt: fmtInt, yFmt: fmt1 });
  scatter(P, pointsG, fitG, r2G, 488, 913);
  letter(419, 750, 'G');
  title(602, 750, [['Normalized Deviation ', false], ['vs.', true], [' Lifespan', false]]);
  yLabel(423, 439, 850, 'Average Deviation', '(relative prognosis)');
  xLabel(734, 971, [['Adult Lifespan ', false], ['(days)', true]]);
}
</script>
</body></html>
